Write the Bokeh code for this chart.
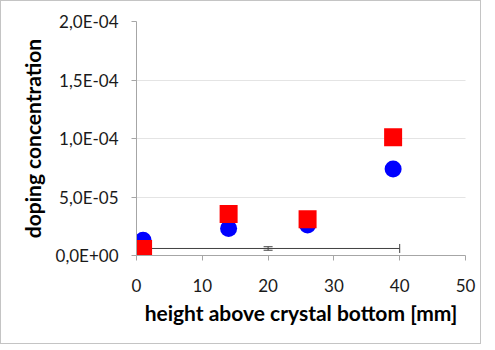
from bokeh.plotting import figure
from bokeh.models import (Range1d, CustomJSTickFormatter,
                          ColumnDataSource, Whisker, TeeHead)
from bokeh.embed import file_html
from bokeh.resources import INLINE

# data
blue_x = [1, 14, 26, 39]
blue_y = [1.3e-05, 2.3e-05, 2.6e-05, 7.4e-05]
red_x = [1, 14, 26, 39]
red_y = [0.55e-05, 3.55e-05, 3.1e-05, 1.01e-04]
err_x = [20]
err_y = [6.0e-06]
err_dx = [20]
err_dy = [1.5e-06]
x_ticks = [0, 10, 20, 30, 40, 50]
y_ticks = [0, 5e-05, 1e-04, 1.5e-04, 2e-04]

FONT = "Lato"

p = figure(width=481, height=344, output_backend="svg", toolbar_location=None,
           x_range=Range1d(0, 50), y_range=Range1d(0, 2e-04),
           min_border_left=135, min_border_right=17, min_border_top=20,
           min_border_bottom=90)
p.styles = {"border": "1px solid #c4c4c4"}
p.outline_line_color = None
p.background_fill_color = "white"
p.border_fill_color = "white"

p.xaxis.ticker = x_ticks
p.yaxis.ticker = y_ticks
p.yaxis.formatter = CustomJSTickFormatter(code="""
var s = tick.toExponential(1); var parts = s.split('e');
var m = parts[0].replace('.', ',');
var e = parseInt(parts[1]); var sg = e < 0 ? '-' : '+'; var a = Math.abs(e);
return m + 'E' + sg + (a < 10 ? '0' : '') + a;
""")

for ax in (p.xaxis[0], p.yaxis[0]):
    ax.axis_line_color = "#a6a6a6"
    ax.major_tick_line_color = "#a6a6a6"
    ax.major_tick_out = 5
    ax.major_tick_in = 0
    ax.minor_tick_line_color = None
    ax.major_label_text_font = FONT
    ax.major_label_text_font_size = "17px"
    ax.major_label_text_color = "#1a1a1a"
    ax.axis_label_text_font = FONT
    ax.axis_label_text_font_size = "21px"
    ax.axis_label_text_font_style = "bold"
    ax.axis_label_text_color = "black"

p.xaxis.axis_label = "height above crystal bottom [mm]"
p.yaxis.axis_label = "doping concentration"
p.xaxis.major_label_standoff = 18
p.xaxis.axis_label_standoff = 5
p.yaxis.major_label_standoff = 13
p.yaxis.axis_label_standoff = 8

p.xgrid.grid_line_color = None
p.ygrid.grid_line_color = "#c8c8c8"
p.ygrid.grid_line_dash = "1 1"

# error bars
src = ColumnDataSource(dict(
    x=err_x, y=err_y,
    xl=[a - b for a, b in zip(err_x, err_dx)], xu=[a + b for a, b in zip(err_x, err_dx)],
    yl=[a - b for a, b in zip(err_y, err_dy)], yu=[a + b for a, b in zip(err_y, err_dy)],
))
wh = Whisker(source=src, base="y", lower="xl", upper="xu", dimension="width",
             line_color="#404040", line_width=1, level="underlay",
             lower_head=TeeHead(size=9, line_color="#404040"),
             upper_head=TeeHead(size=9, line_color="#404040"))
wv = Whisker(source=src, base="x", lower="yl", upper="yu", dimension="height",
             line_color="#404040", line_width=1, level="underlay",
             lower_head=TeeHead(size=9, line_color="#404040"),
             upper_head=TeeHead(size=9, line_color="#404040"))
p.add_layout(wh)
p.add_layout(wv)

p.scatter(blue_x, blue_y, marker="circle", size=17, fill_color="#0000ff", line_color=None)
p.scatter(red_x, red_y, marker="square", size=18, fill_color="#ff0000", line_color=None)

open("out.html", "w").write(file_html(p, INLINE))
